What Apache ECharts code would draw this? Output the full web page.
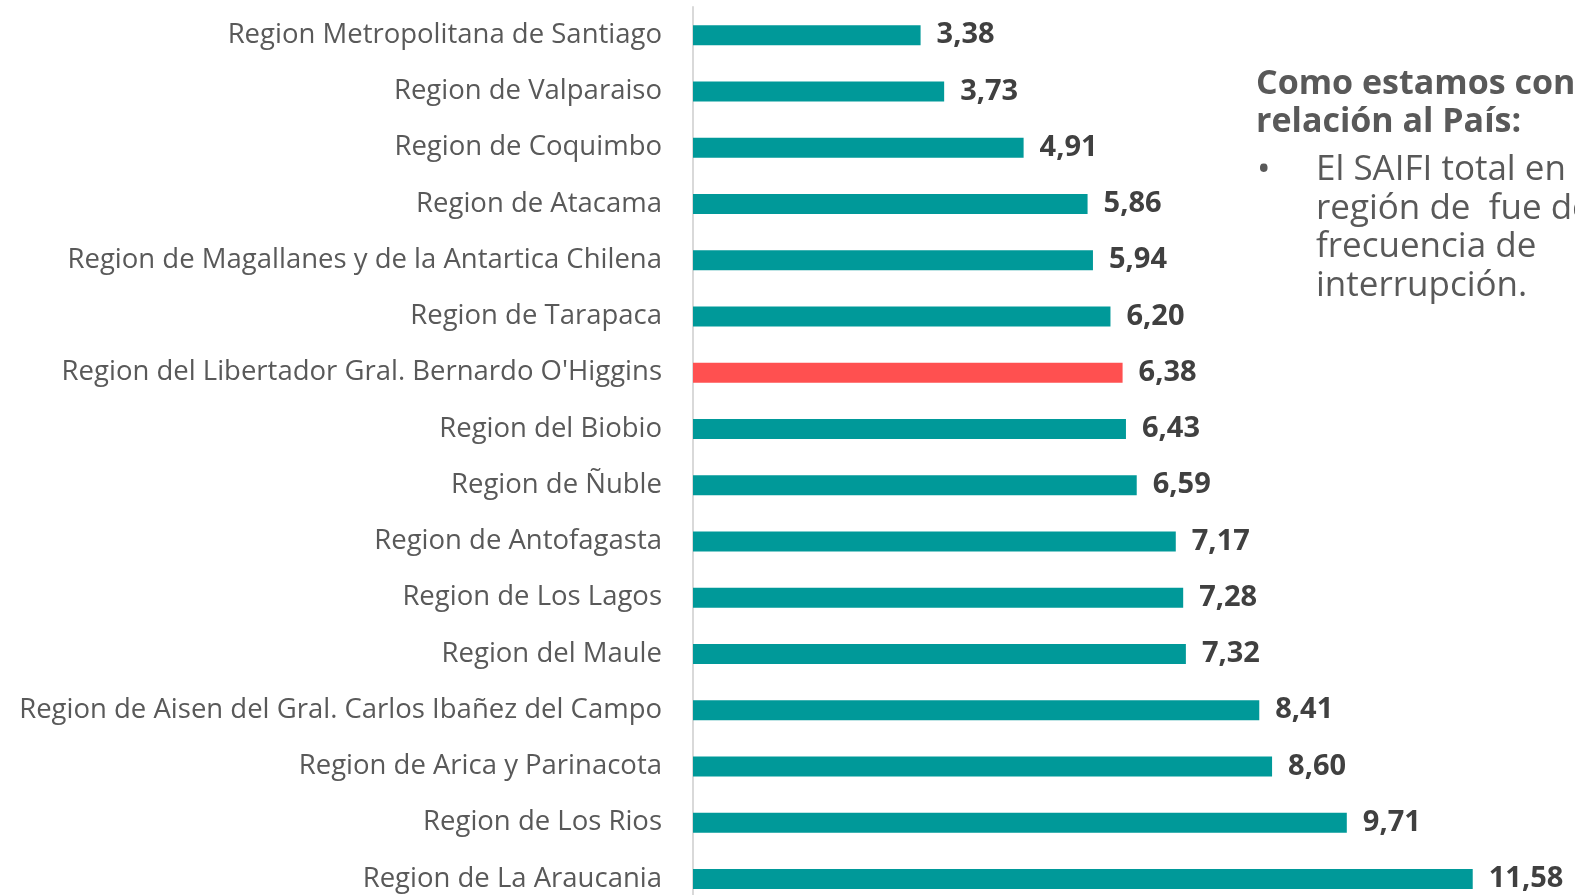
<!DOCTYPE html>
<html>
<head>
<meta charset="utf-8">
<script src="https://cdn.jsdelivr.net/npm/echarts@6/dist/echarts.min.js"></script>
<style>
  html, body { margin: 0; padding: 0; background: #fff; }
  #chart { width: 1575px; height: 895px; }
</style>
</head>
<body>
<div id="chart"></div>
<script>
// regions, top to bottom
var regions = [
  'Region Metropolitana de Santiago',
  'Region de Valparaiso',
  'Region de Coquimbo',
  'Region de Atacama',
  'Region de Magallanes y de la Antartica Chilena',
  'Region de Tarapaca',
  "Region del Libertador Gral. Bernardo O'Higgins",
  'Region del Biobio',
  'Region de Ñuble',
  'Region de Antofagasta',
  'Region de Los Lagos',
  'Region del Maule',
  'Region de Aisen del Gral. Carlos Ibañez del Campo',
  'Region de Arica y Parinacota',
  'Region de Los Rios',
  'Region de La Araucania'
]
var saifi = [3.38, 3.73, 4.91, 5.86, 5.94, 6.20, 6.38, 6.43, 6.59, 7.17, 7.28, 7.32, 8.41, 8.60, 9.71, 11.58]
var highlight = "Region del Libertador Gral. Bernardo O'Higgins"

var teal = '#009999'
var red = '#ff5050'
var grey = '#595959'

var chart = echarts.init(document.getElementById('chart'))

chart.setOption({
  animation: false,
  grid: {
    left: 693,
    top: 7,
    width: 808,   // 12 units
    height: 900,
    outerBoundsMode: 'none'
  },
  xAxis: {
    type: 'value',
    min: 0,
    max: 12,
    show: false
  },
  yAxis: {
    type: 'category',
    inverse: true,
    data: regions,
    axisLine: { show: true, lineStyle: { color: '#d9d9d9', width: 2 } },
    axisTick: { show: false },
    axisLabel: {
      margin: 31,
      color: grey,
      fontFamily: 'Open Sans',
      fontSize: 27.5
    }
  },
  series: [{
    type: 'bar',
    barWidth: 20,
    data: saifi.map(function (v, i) {
      return {
        value: v,
        itemStyle: { color: regions[i] === highlight ? red : teal }
      }
    }),
    label: {
      show: true,
      position: 'right',
      distance: 16,
      color: '#404040',
      fontFamily: 'Open Sans',
      fontWeight: 'bold',
      fontSize: 29,
      formatter: function (p) {
        return p.value.toFixed(2).replace('.', ',')
      }
    }
  }],
  // texto lateral
  graphic: [
    {
      type: 'text',
      left: 1256,
      top: 65,
      style: {
        text: 'Como estamos con\nrelación al País:',
        fill: grey,
        font: 'bold 34px "Open Sans"',
        lineHeight: 38
      }
    },
    {
      type: 'text',
      left: 1257,
      top: 151,
      style: {
        text: '•',
        fill: grey,
        font: '36px "Open Sans"',
        lineHeight: 38.5
      }
    },
    {
      type: 'text',
      left: 1316,
      top: 151,
      style: {
        text: 'El SAIFI total en\nregión de  fue de\nfrecuencia de\ninterrupción.',
        fill: grey,
        font: '35px "Open Sans"',
        lineHeight: 38.5
      }
    }
  ]
})
</script>
</body>
</html>
